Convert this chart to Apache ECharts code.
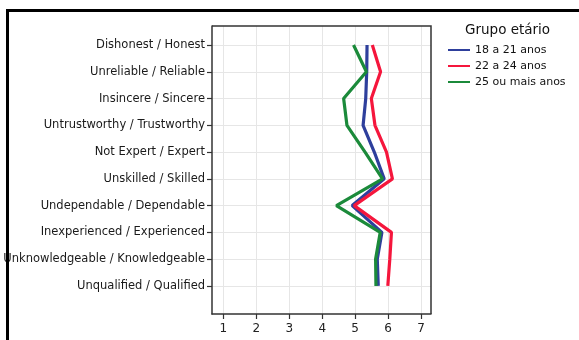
<!DOCTYPE html>
<html>
<head>
<meta charset="utf-8">
<script src="https://cdn.jsdelivr.net/npm/echarts@6/dist/echarts.min.js"></script>
<style>
html,body{margin:0;padding:0;background:#fff;}
#chart{width:579px;height:340px;}
</style>
</head>
<body>
<div id="chart"></div>
<script>
const categories = [
  'Dishonest / Honest',
  'Unreliable / Reliable',
  'Insincere / Sincere',
  'Untrustworthy / Trustworthy',
  'Not Expert / Expert',
  'Unskilled / Skilled',
  'Undependable / Dependable',
  'Inexperienced / Experienced',
  'Unknowledgeable / Knowledgeable',
  'Unqualified / Qualified'
];
const seriesNames = ['18 a 21 anos', '22 a 24 anos', '25 ou mais anos'];
const age18to21 = [5.36, 5.35, 5.32, 5.24, 5.58, 5.88, 4.91, 5.81, 5.67, 5.70];
const age22to24 = [5.52, 5.77, 5.49, 5.60, 5.95, 6.13, 4.97, 6.10, 6.05, 5.99];
const age25plus = [4.95, 5.34, 4.65, 4.75, 5.30, 5.83, 4.43, 5.76, 5.62, 5.63];
const xTicks = [1, 2, 3, 4, 5, 6, 7];
const legendTitle = 'Grupo etário';

const colors = ['#2e3f9c', '#f5163c', '#1b8a3a'];
const allSeries = [age18to21, age22to24, age25plus];
const catIdx = categories.map((c, i) => i);

const chart = echarts.init(document.getElementById('chart'), null, {renderer: 'canvas'});
const font = 'DejaVu Sans';
chart.setOption({
  animation: false,
  backgroundColor: '#fff',
  title: {
    text: legendTitle,
    left: 460, top: 18,
    textStyle: {fontFamily: font, fontSize: 13.5, fontWeight: 'normal', color: '#111'}
  },
  legend: {
    orient: 'vertical',
    left: 443, top: 38,
    itemWidth: 22, itemHeight: 2, itemGap: 2,
    icon: 'rect',
    textStyle: {fontFamily: font, fontSize: 11, color: '#111', lineHeight: 14},
    data: seriesNames
  },
  grid: {left: 212, top: 26, width: 219, height: 288, containLabel: false},
  xAxis: {
    type: 'value',
    min: 0.657, max: 7.30,
    axisLine: {show: true, onZero: false, lineStyle: {color: '#333', width: 1.5}},
    axisTick: {show: true, length: 5, lineStyle: {color: '#333', width: 1.2}, customValues: xTicks},
    axisLabel: {customValues: xTicks, fontFamily: font, fontSize: 12, color: '#222', margin: 9},
    splitLine: {show: true, lineStyle: {color: '#e6e6e6', width: 1}}
  },
  yAxis: {
    type: 'value',
    inverse: true,
    min: -0.71, max: 10.05,
    axisLine: {show: true, onZero: false, lineStyle: {color: '#333', width: 1.5}},
    axisTick: {show: true, length: 5, lineStyle: {color: '#333', width: 1.2}, customValues: catIdx},
    axisLabel: {
      customValues: catIdx,
      fontFamily: font, fontSize: 11.5, color: '#1a1a1a', margin: 7,
      formatter: v => categories[Math.round(v)]
    },
    splitLine: {show: true, lineStyle: {color: '#e6e6e6', width: 1}}
  },
  graphic: [{
    type: 'polyline',
    shape: {points: [[7.5, 345], [7.5, 10.5], [585, 10.5]]},
    style: {stroke: '#000', lineWidth: 3, fill: null},
    z: 100
  }, {
    type: 'polyline',
    shape: {points: [[212, 26], [431, 26], [431, 314]]},
    style: {stroke: '#333', lineWidth: 1.5, fill: null},
    z: 50
  }],
  series: seriesNames.map((name, s) => ({
    name: name,
    type: 'line',
    showSymbol: false,
    symbol: 'none',
    color: colors[s],
    lineStyle: {width: 3.2, color: colors[s]},
    data: allSeries[s].map((v, i) => [v, i])
  }))
});
</script>
</body>
</html>
